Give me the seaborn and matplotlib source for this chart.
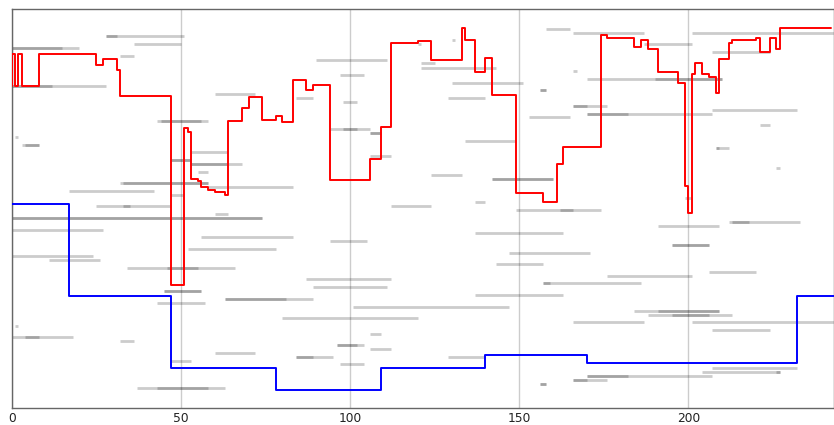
import matplotlib
matplotlib.use("Agg")
import matplotlib.pyplot as plt
import seaborn as sns

# Red trace: change points (x) and the level held up to each point (steps-pre)
red_x = [0, 1, 2, 3, 8, 25, 27, 31, 32, 47, 51, 52, 53, 55, 56, 58, 60, 63, 64, 68,
         70, 74, 78, 80, 83, 87, 89, 94, 106, 109, 112, 120, 124, 133, 134, 137, 140,
         142, 149, 157, 161, 163, 174, 176, 184, 186, 188, 191, 197, 199, 200, 201,
         202, 204, 206, 208, 209, 212, 213, 220, 221, 224, 226, 227, 242]
red_y = [322, 354, 322, 354, 322, 354, 343, 349, 338, 312, 123, 280, 276, 229, 227,
         221, 218, 216, 213, 287, 300, 311, 288, 292, 286, 328, 318, 323, 228, 249,
         281, 365, 367, 348, 380, 368, 336, 350, 313, 215, 206, 244, 261, 373, 370,
         361, 368, 359, 336, 325, 222, 195, 334, 345, 334, 331, 315, 349, 365, 368,
         370, 356, 370, 359, 380]

# Blue trace
blue_x = [0, 17, 47, 78, 109, 140, 170, 232, 243]
blue_y = [204, 204, 112, 40, 18, 40, 53, 45, 112]

# Background intervals: level, start, end
seg_y = [372, 372, 364, 360, 360, 352, 322, 322, 314, 287, 287, 271, 263, 263, 256,
         248, 248, 244, 244, 236, 225, 225, 221, 217, 213, 202, 202, 194, 190, 190,
         178, 171, 159, 152, 148, 140, 140, 117, 117, 109, 109, 105, 82, 71, 71, 67,
         55, 47, 20, 20,
         348, 333, 310, 306, 279, 279, 275, 275, 252, 233, 202, 206, 229, 229, 198,
         198, 379, 368, 364, 345, 340, 325, 310, 318, 318, 291, 267, 175, 167, 155,
         144, 129, 125, 125, 121, 113, 101, 90, 74, 63, 63, 59, 51, 51, 44, 51, 24, 24,
         182, 186, 186, 163, 163, 136, 132, 97, 97, 93, 93, 86, 86, 78, 40, 36, 36,
         32, 32, 28, 28, 375, 375, 364, 356, 337, 329, 329, 302, 302, 294, 294, 298,
         283, 260, 260, 240, 210]
seg_start = [28, 28, 36, 0, 0, 32, 0, 0, 60, 43, 44, 1, 3, 4, 53,
             47, 47, 53, 53, 55, 32, 33, 58, 17, 47, 25, 33, 60, 0, 0,
             0, 56, 52, 0, 11, 34, 46, 45, 45, 63, 63, 43, 1, 0, 4, 32,
             60, 47, 37, 43,
             90, 97, 84, 98, 94, 98, 106, 106, 106, 124, 112, 137, 142, 142, 149,
             162, 158, 130, 120, 121, 121, 130, 129, 156, 156, 153, 134, 137, 94, 147,
             143, 87, 157, 157, 89, 137, 101, 80, 106, 96, 96, 106, 84, 84, 97, 129, 156, 156,
             191, 212, 213, 195, 195, 206, 176, 184, 191, 188, 195, 166, 201, 207, 207, 204, 226,
             170, 170, 166, 166, 166, 201, 187, 207, 166, 170, 190, 166, 166, 170, 170, 207,
             221, 208, 208, 226, 199]
seg_end = [51, 31, 50, 20, 15, 36, 28, 12, 72, 58, 56, 2, 8, 8, 64,
           53, 53, 68, 64, 58, 58, 58, 83, 42, 51, 47, 35, 64, 74, 74,
           27, 83, 78, 24, 26, 66, 55, 56, 56, 89, 81, 57, 2, 18, 8, 36,
           72, 53, 63, 58,
           111, 104, 89, 102, 106, 102, 109, 109, 112, 133, 124, 140, 160, 160, 174,
           166, 165, 131, 121, 125, 143, 151, 140, 158, 158, 165, 149, 163, 105, 171,
           157, 112, 186, 159, 111, 163, 147, 120, 109, 104, 102, 112, 95, 89, 104, 140, 158, 158,
           209, 233, 218, 206, 206, 220, 201, 209, 209, 213, 206, 187, 243, 224, 232, 227, 227,
           207, 182, 176, 170, 187, 243, 201, 224, 167, 210, 210, 176, 170, 207, 182, 232,
           224, 212, 209, 227, 201]

sns.set_style("white")
fig = plt.figure(figsize=(8.34, 4.25), dpi=100)
ax = fig.add_axes([11.7 / 834, 1 - 408.3 / 425, 1 - 11.7 / 834, 399 / 425])

ax.hlines(seg_y, seg_start, seg_end, colors="black", alpha=0.2, linewidth=2.0,
          zorder=1)

sns.lineplot(x=red_x, y=red_y, drawstyle="steps-pre", color="red", linewidth=1.4,
             estimator=None, ax=ax, zorder=3)
sns.lineplot(x=blue_x, y=blue_y, drawstyle="steps-pre", color="blue", linewidth=1.4,
             estimator=None, ax=ax, zorder=3)

ax.set_xlim(0, 243)
ax.set_ylim(0, 399)
ax.set_xticks([0, 50, 100, 150, 200])
ax.set_yticks([])
ax.set_xlabel("")
ax.set_ylabel("")
ax.set_axisbelow(True)
ax.grid(axis="x", color="#cccccc", linewidth=1.0)
ax.tick_params(axis="x", length=0, pad=3, labelsize=8.8, labelcolor="#222222")
for side in ax.spines.values():
    side.set_color("#666666")
    side.set_linewidth(1.0)

fig.savefig("out.png", dpi=100)
